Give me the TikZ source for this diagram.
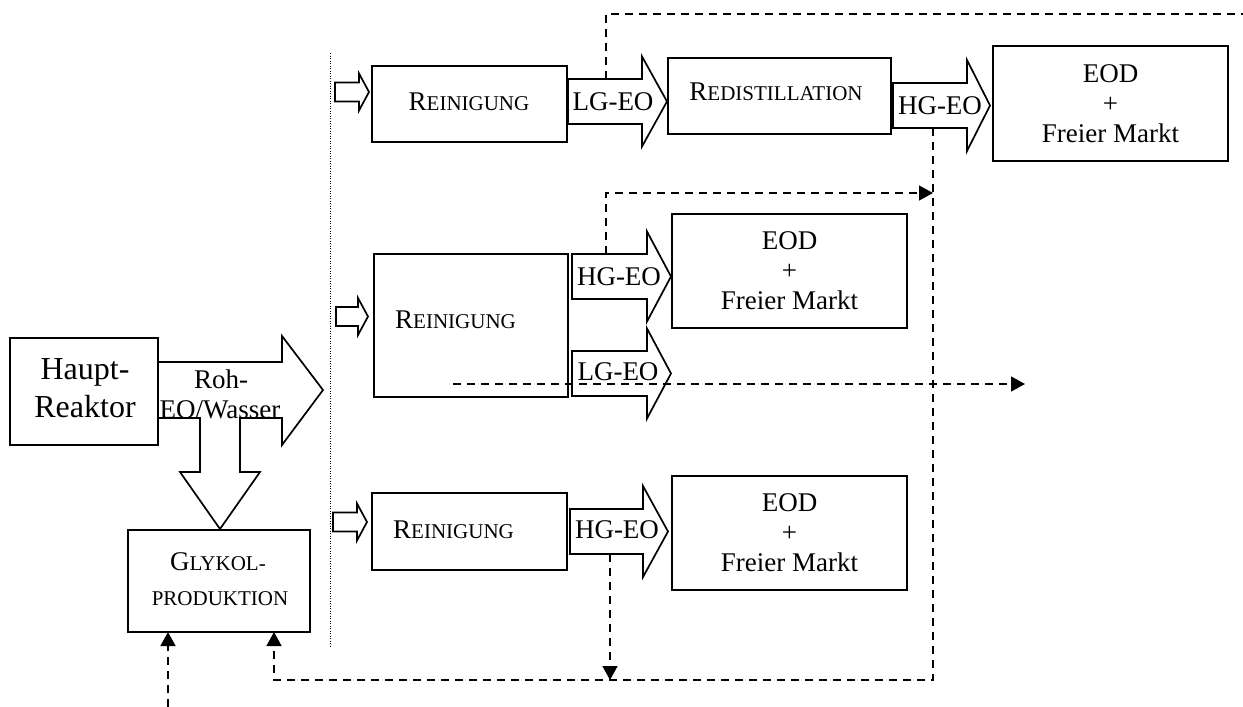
\documentclass[tikz,border=0pt]{standalone}
\usepackage{fontspec}
\setmainfont{Liberation Serif}
\usetikzlibrary{arrows.meta}
\newcommand\smallc[1]{{\fontsize{21}{21}\selectfont #1}}
\newcommand\blockarrow[6]{%
  \draw[barrow] (#1,{#4-#5}) -- (#2,{#4-#5}) -- (#2,{#4-#6}) -- (#3,#4)
     -- (#2,{#4+#6}) -- (#2,{#4+#5}) -- (#1,{#4+#5}) -- cycle;}
\tikzset{
  box/.style={draw, line width=1.7pt, fill=white, inner sep=0pt},
  barrow/.style={draw, line width=1.7pt, fill=white, line join=miter},
  flow/.style={line width=1.4pt, dash pattern=on 8pt off 6pt},
  flowarr/.style={flow, -{Triangle[length=14pt,width=15pt]}},
  lbl/.style={font=\fontsize{27}{30}\selectfont, inner sep=0pt},
  sepline/.style={line width=1pt, dash pattern=on 1pt off 1.5pt},
}
\begin{document}
\begin{tikzpicture}[x=1pt,y=-1pt]
\useasboundingbox[fill=white] (0,0) rectangle (1243,707);

% separator
\coordinate (septop) at (330,53);
\coordinate (sepbot) at (330,647);
\draw[sepline] (septop) -- (sepbot);

% main reactor and crude arrow
\draw[barrow] (158,362) -- (282,362) -- (282,336) -- (323,390) -- (282,445) -- (282,418)
  -- (240,418) -- (240,472) -- (260,472) -- (220,529) -- (180,472) -- (200,472)
  -- (200,418) -- (158,418);
\node[box, minimum width=148pt, minimum height=107pt] (haupt) at (84,391.5) {};
\node[inner sep=0pt, anchor=base, font=\fontsize{32}{38}\selectfont] (haupt1) at (85,379) {Haupt-};
\node[inner sep=0pt, anchor=base, font=\fontsize{32}{38}\selectfont] (haupt2) at (85,417) {Reaktor};
\node[inner sep=0pt, anchor=base, font=\fontsize{27}{30}\selectfont] (roh1) at (221,388) {Roh-};
\node[inner sep=0pt, anchor=base, font=\fontsize{27}{30}\selectfont] (roh2) at (220,418) {EO/Wasser};

% glycol
\node[box, minimum width=182pt, minimum height=102pt] (glyk) at (219,581) {};
\node[lbl, anchor=base] (glyk1) at (218,570) {G\smallc{LYKOL-}};
\node[lbl, anchor=base] (glyk2) at (220,605) {\smallc{PRODUKTION}};

% small inlet arrows
\blockarrow{335}{359}{369}{92}{9.5}{18.5}
\blockarrow{336}{358}{368}{316.5}{9.5}{18.5}
\blockarrow{333}{357}{367}{522}{9.5}{18.5}

% row 1
\node[box, minimum width=195pt, minimum height=76pt] (rein1) at (469.5,104) {};
\node[lbl, anchor=base] (rein1t) at (469,110) {R\smallc{EINIGUNG}};
\blockarrow{568}{642}{667}{101.5}{22.5}{45}
\node[lbl, anchor=base] (lg1) at (613,110) {LG-EO};
\node[box, minimum width=223pt, minimum height=76pt] (redist) at (779.5,96) {};
\node[lbl, anchor=base] (redistt) at (776,100) {R\smallc{EDISTILLATION}};
\blockarrow{893}{967}{990}{105.5}{22.5}{45.5}
\node[lbl, anchor=base] (hg1) at (940,114) {HG-EO};
\node[box, minimum width=235pt, minimum height=115pt] (eod1) at (1110.5,103.5) {};
\node[lbl, align=center] (eod1t) at (1110.5,103.5) {EOD\\+\\Freier Markt};

% row 2
\node[box, minimum width=194pt, minimum height=143pt] (rein2) at (471,325.5) {};
\node[lbl, anchor=base west] (rein2t) at (395,328) {R\smallc{EINIGUNG}};
\blockarrow{572}{647}{671}{276.5}{22.5}{45}
\node[lbl, anchor=base] (hg2) at (619,285) {HG-EO};
\blockarrow{572}{647}{671}{373.5}{22.5}{45}
\node[lbl, anchor=base] (lg2) at (618,380) {LG-EO};
\node[box, minimum width=235pt, minimum height=114pt] (eod2) at (789.5,271) {};
\node[lbl, align=center] (eod2t) at (789.5,271) {EOD\\+\\Freier Markt};

% row 3
\node[box, minimum width=195pt, minimum height=77pt] (rein3) at (469.5,531.5) {};
\node[lbl, anchor=base west] (rein3t) at (393,538) {R\smallc{EINIGUNG}};
\blockarrow{570}{643}{668}{531.5}{22.5}{45.5}
\node[lbl, anchor=base] (hg3) at (617,538) {HG-EO};
\node[box, minimum width=235pt, minimum height=114pt] (eod3) at (789.5,533) {};
\node[lbl, align=center] (eod3t) at (789.5,533) {EOD\\+\\Freier Markt};

% dashed flows
\coordinate (lgtop) at (606,79);
\coordinate (topend) at (1243,14);
\draw[flow] (lgtop) |- (topend);

\coordinate (hgm) at (606,254);
\coordinate (vjoin) at (933,193);
\draw[flowarr] (hgm) |- (vjoin);

\coordinate (hgt) at (933,128);
\coordinate (bcorner) at (933,680);
\coordinate (gin2) at (274,632);
\draw[flowarr] (hgt) -- (bcorner) -| (gin2);

\coordinate (hgb) at (610,554);
\coordinate (bdrop) at (610,680);
\draw[flowarr] (hgb) -- (bdrop);

\coordinate (lgs) at (453,384);
\coordinate (lge) at (1025,384);
\draw[flowarr] (lgs) -- (lge);

\coordinate (gin1src) at (168,707);
\coordinate (gin1) at (168,632);
\draw[flowarr] (gin1src) -- (gin1);
\end{tikzpicture}
\end{document}
